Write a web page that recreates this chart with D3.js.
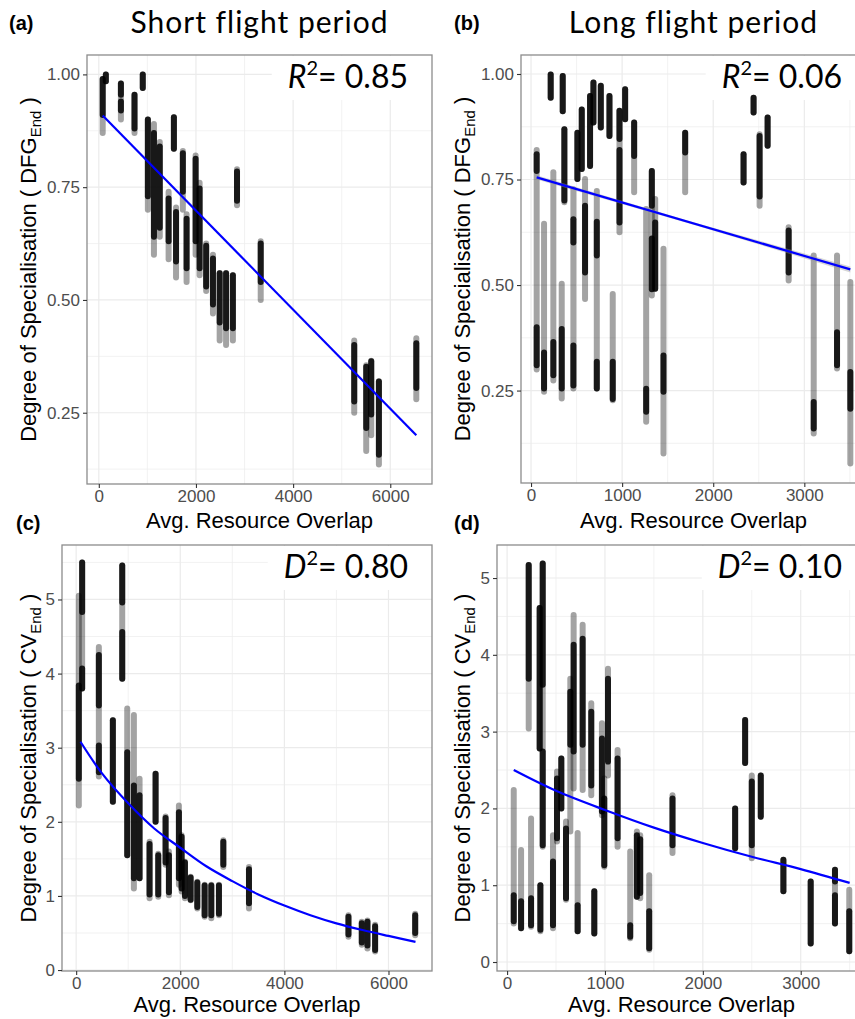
<!DOCTYPE html>
<html lang="en">
<head>
<meta charset="UTF-8">
<title>Degree of specialisation vs resource overlap</title>
<style>
  body { margin: 0; background: #fff; }
  svg { display: block; }
  .tick-label { font-family: "Liberation Sans", Arial, sans-serif; font-size: 17px; fill: #4d4d4d; }
  .axis-title { font-family: "Liberation Sans", Arial, sans-serif; font-size: 22px; fill: #000; }
  .panel-tag { font-family: "Liberation Sans", Arial, sans-serif; font-size: 20px; font-weight: bold; }
  .panel-title { font-family: Lato, "Open Sans", sans-serif; font-size: 30px; letter-spacing: 1px; }
  .stat { font-family: Lato, "Open Sans", sans-serif; font-size: 32px; }
</style>
<script src="https://cdn.jsdelivr.net/npm/d3@7"></script>
</head>
<body>
<svg id="chart" width="855" height="1019"></svg>
<script>
// Each cluster: [avg overlap, min, max, [[dense from, dense to], ...]]
const clustersA = [
  [80, 0.87, 0.99, [[0.91, 0.99]]],
  [145, 0.985, 1.0, [[0.985, 1.0]]],
  [455, 0.90, 0.98, [[0.955, 0.98], [0.92, 0.94]]],
  [735, 0.87, 0.955, [[0.88, 0.955]]],
  [905, 0.97, 1.0, [[0.97, 1.0]]],
  [1010, 0.70, 0.90, [[0.73, 0.90]]],
  [1135, 0.60, 0.89, [[0.64, 0.87]]],
  [1255, 0.64, 0.85, [[0.66, 0.84]]],
  [1437, 0.59, 0.74, [[0.63, 0.725]]],
  [1546, 0.835, 0.905, [[0.835, 0.905]]],
  [1590, 0.55, 0.705, [[0.585, 0.695]]],
  [1730, 0.70, 0.83, [[0.74, 0.825]]],
  [1807, 0.54, 0.69, [[0.57, 0.68]]],
  [1993, 0.60, 0.82, [[0.63, 0.813]]],
  [2075, 0.555, 0.76, [[0.57, 0.747]]],
  [2210, 0.52, 0.625, [[0.53, 0.62]]],
  [2350, 0.47, 0.60, [[0.49, 0.592]]],
  [2488, 0.41, 0.56, [[0.45, 0.559]]],
  [2620, 0.40, 0.56, [[0.437, 0.559]]],
  [2760, 0.41, 0.555, [[0.437, 0.555]]],
  [2845, 0.71, 0.79, [[0.72, 0.785]]],
  [3333, 0.50, 0.63, [[0.54, 0.625]]],
  [5258, 0.25, 0.41, [[0.275, 0.40]]],
  [5505, 0.165, 0.355, [[0.216, 0.352]]],
  [5608, 0.20, 0.365, [[0.246, 0.364]]],
  [5766, 0.135, 0.32, [[0.157, 0.319]]],
  [6536, 0.28, 0.415, [[0.305, 0.404]]]
];

const clustersB = [
  [62, 0.30, 0.82, [[0.77, 0.81], [0.31, 0.40]]],
  [143, 0.247, 0.645, [[0.255, 0.34]]],
  [216, 0.944, 0.999, [[0.944, 0.999]]],
  [245, 0.274, 0.767, [[0.286, 0.365]]],
  [337, 0.231, 0.503, [[0.255, 0.396]]],
  [348, 0.912, 0.995, [[0.912, 0.995]]],
  [366, 0.696, 0.869, [[0.70, 0.869]]],
  [465, 0.255, 0.727, [[0.262, 0.357], [0.601, 0.656]]],
  [509, 0.751, 0.861, [[0.751, 0.861]]],
  [557, 0.775, 0.916, [[0.775, 0.916]]],
  [593, 0.467, 0.751, [[0.53, 0.688]]],
  [648, 0.782, 0.948, [[0.782, 0.948]]],
  [685, 0.885, 0.98, [[0.885, 0.98]]],
  [722, 0.255, 0.723, [[0.255, 0.318], [0.57, 0.65]]],
  [766, 0.873, 0.972, [[0.873, 0.972]]],
  [861, 0.853, 0.948, [[0.853, 0.948]]],
  [897, 0.227, 0.479, [[0.23, 0.318]]],
  [971, 0.625, 0.913, [[0.846, 0.913], [0.648, 0.82]]],
  [1033, 0.893, 0.964, [[0.893, 0.964]]],
  [1132, 0.72, 0.885, [[0.806, 0.885]]],
  [1264, 0.176, 0.68, [[0.20, 0.254]]],
  [1326, 0.475, 0.77, [[0.688, 0.77], [0.49, 0.61]]],
  [1363, 0.491, 0.704, [[0.491, 0.648]]],
  [1454, 0.101, 0.586, [[0.247, 0.333]]],
  [1692, 0.72, 0.861, [[0.814, 0.861]]],
  [2333, 0.743, 0.81, [[0.743, 0.81]]],
  [2443, 0.909, 0.944, [[0.909, 0.944]]],
  [2509, 0.688, 0.857, [[0.71, 0.853]]],
  [2597, 0.83, 0.897, [[0.83, 0.897]]],
  [2828, 0.511, 0.637, [[0.53, 0.629]]],
  [3103, 0.148, 0.57, [[0.16, 0.223]]],
  [3359, 0.302, 0.57, [[0.31, 0.388]]],
  [3505, 0.077, 0.507, [[0.207, 0.294]]]
];

const clustersC = [
  [51, 2.22, 5.05, [[2.58, 3.84]]],
  [115, 3.80, 5.50, [[4.83, 5.50], [3.80, 4.07]]],
  [436, 2.61, 4.36, [[3.57, 4.25], [2.67, 3.03]]],
  [705, 2.27, 3.37, [[2.27, 3.37]]],
  [885, 3.93, 5.46, [[4.96, 5.46], [3.93, 4.56]]],
  [981, 1.55, 3.53, [[1.55, 2.94]]],
  [1109, 1.10, 3.44, [[1.24, 2.49]]],
  [1218, 1.24, 2.58, [[1.24, 2.36]]],
  [1410, 0.97, 1.73, [[1.02, 1.70]]],
  [1526, 2.0, 2.65, [[2.0, 2.65]]],
  [1577, 0.99, 1.57, [[1.02, 1.55]]],
  [1718, 1.42, 2.07, [[1.45, 2.05]]],
  [1782, 1.01, 1.60, [[1.05, 1.55]]],
  [1974, 1.15, 2.22, [[1.24, 2.13]]],
  [2026, 1.06, 1.82, [[1.10, 1.80]]],
  [2090, 0.97, 1.46, [[1.0, 1.45]]],
  [2199, 0.94, 1.26, [[0.95, 1.25]]],
  [2327, 0.83, 1.19, [[0.85, 1.18]]],
  [2468, 0.72, 1.15, [[0.74, 1.14]]],
  [2596, 0.70, 1.15, [[0.74, 1.14]]],
  [2743, 0.74, 1.15, [[0.76, 1.14]]],
  [2827, 1.39, 1.75, [[1.42, 1.73]]],
  [3320, 0.83, 1.39, [[0.90, 1.36]]],
  [5231, 0.45, 0.74, [[0.48, 0.72]]],
  [5487, 0.34, 0.65, [[0.37, 0.63]]],
  [5596, 0.29, 0.67, [[0.33, 0.65]]],
  [5743, 0.25, 0.61, [[0.27, 0.59]]],
  [6513, 0.47, 0.76, [[0.50, 0.74]]]
];

const clustersD = [
  [68, 0.50, 2.24, [[0.53, 0.87]]],
  [143, 0.44, 1.46, [[0.44, 0.79]]],
  [221, 3.04, 5.17, [[3.69, 5.17]]],
  [245, 0.46, 1.87, [[0.48, 0.83]]],
  [333, 2.78, 4.61, [[2.78, 4.61]]],
  [340, 0.40, 1.0, [[0.42, 1.0]]],
  [364, 1.50, 5.19, [[3.61, 5.19], [1.52, 2.74]]],
  [469, 0.44, 1.65, [[0.48, 1.31]]],
  [510, 1.57, 2.48, [[1.61, 2.39]]],
  [554, 2.0, 2.65, [[2.0, 2.65]]],
  [602, 0.81, 1.83, [[0.83, 1.74]]],
  [646, 1.70, 3.69, [[2.83, 3.52]]],
  [680, 2.26, 4.52, [[2.74, 4.13]]],
  [721, 0.40, 1.68, [[0.40, 0.74]]],
  [772, 2.24, 4.39, [[2.83, 4.21]]],
  [860, 2.17, 3.37, [[2.30, 3.26]]],
  [891, 0.37, 0.92, [[0.37, 0.92]]],
  [969, 1.91, 3.11, [[1.96, 2.91]]],
  [993, 1.24, 2.39, [[1.26, 2.13]]],
  [1031, 2.43, 3.82, [[2.61, 3.69]]],
  [1129, 1.50, 2.76, [[1.61, 2.65]]],
  [1258, 0.31, 1.44, [[0.33, 0.48]]],
  [1326, 0.85, 1.70, [[0.85, 1.65]]],
  [1360, 0.83, 1.65, [[0.90, 1.60]]],
  [1452, 0.16, 1.13, [[0.18, 0.66]]],
  [1690, 1.42, 2.17, [[1.52, 2.13]]],
  [2330, 1.48, 2.0, [[1.48, 2.0]]],
  [2432, 2.59, 3.15, [[2.59, 3.15]]],
  [2500, 1.35, 2.43, [[1.52, 2.35]]],
  [2592, 1.89, 2.43, [[1.89, 2.43]]],
  [2823, 0.92, 1.33, [[0.92, 1.33]]],
  [3102, 0.24, 1.05, [[0.24, 1.05]]],
  [3350, 0.50, 1.20, [[0.50, 0.87], [1.05, 1.20]]],
  [3496, 0.14, 0.94, [[0.14, 0.66]]]
];

// fitted lines
const fitAx = [80, 6536],  fitAy = [0.909, 0.20];
const fitBx = [62, 3505],  fitBy = [0.755, 0.537];
const fitBband = [0.005, 0.003, 0.007]; // ribbon half-width at start / middle / end
const fitCx = [83, 500, 1000, 1500, 2000, 2500, 3000, 3500, 4000, 4500, 5000, 5500, 6000, 6519];
const fitCy = [3.08, 2.65, 2.25, 1.91, 1.65, 1.40, 1.20, 1.02, 0.87, 0.74, 0.63, 0.54, 0.46, 0.38];
const fitDx = [68, 500, 1000, 1500, 2000, 2500, 3000, 3500];
const fitDy = [2.50, 2.23, 1.98, 1.75, 1.55, 1.37, 1.21, 1.03];

const xTicksShort = [0, 2000, 4000, 6000];
const xTicksLong = [0, 1000, 2000, 3000];
const yTicksDFG = [0.25, 0.50, 0.75, 1.00];
const yTicksCV = [0, 1, 2, 3, 4, 5];

const stats = ["0.85", "0.06", "0.80", "0.10"];
const titles = ["Short flight period", "Long flight period"];

const svg = d3.select("#chart");

const panels = [
  { tag: "(a)", tagX: 9, tagY: 30, left: 87, right: 432, top: 55, bottom: 484,
    xDom: [-243, 6859], yDom: [0.092, 1.043], xTicks: xTicksShort, yTicks: yTicksDFG, yFmt: d3.format(".2f"),
    data: clustersA, fx: fitAx, fy: fitAy, curved: false, letter: "R", stat: stats[0],
    sub: "End", yName: "DFG", yTitleX: 36, xTitleY: 528, title: titles[0] },
  { tag: "(b)", tagX: 454, tagY: 30, left: 521, right: 866, top: 55, bottom: 483,
    xDom: [-110, 3677], yDom: [0.031, 1.045], xTicks: xTicksLong, yTicks: yTicksDFG, yFmt: d3.format(".2f"),
    data: clustersB, fx: fitBx, fy: fitBy, curved: false, band: fitBband, letter: "R", stat: stats[1],
    sub: "End", yName: "DFG", yTitleX: 470, xTitleY: 528, title: titles[1] },
  { tag: "(c)", tagX: 16, tagY: 530, left: 62, right: 432, top: 545, bottom: 971,
    xDom: [-272, 6836], yDom: [-0.013, 5.735], xTicks: xTicksShort, yTicks: yTicksCV, yFmt: d3.format("d"),
    data: clustersC, fx: fitCx, fy: fitCy, curved: true, letter: "D", stat: stats[2],
    sub: "End", yName: "CV", yTitleX: 36, xTitleY: 1012 },
  { tag: "(d)", tagX: 454, tagY: 530, left: 497, right: 866, top: 545, bottom: 971,
    xDom: [-103, 3667], yDom: [-0.117, 5.43], xTicks: xTicksLong, yTicks: yTicksCV, yFmt: d3.format("d"),
    data: clustersD, fx: fitDx, fy: fitDy, curved: true, letter: "D", stat: stats[3],
    sub: "End", yName: "CV", yTitleX: 470, xTitleY: 1012 }
];

panels.forEach(p => {
  const x = d3.scaleLinear().domain(p.xDom).range([p.left, p.right]);
  const y = d3.scaleLinear().domain(p.yDom).range([p.bottom, p.top]);
  const g = svg.append("g");

  // minor grid: midpoints between major ticks
  const xStep = p.xTicks[1] - p.xTicks[0];
  const yStep = p.yTicks[1] - p.yTicks[0];
  const xMinor = d3.range(p.xTicks[0] - xStep / 2, p.xDom[1], xStep).filter(v => v > p.xDom[0]);
  const yMinor = d3.range(p.yTicks[0] - yStep / 2, p.yDom[1], yStep).filter(v => v > p.yDom[0]);
  const xMajor = d3.range(p.xTicks[0], p.xDom[1], xStep);
  const yMajor = d3.range(p.yTicks[0], p.yDom[1] + 1e-9, yStep);

  g.selectAll(".gxm").data(xMinor).join("line")
    .attr("x1", d => x(d)).attr("x2", d => x(d)).attr("y1", p.top).attr("y2", p.bottom)
    .attr("stroke", "#ededed").attr("stroke-width", 0.7);
  g.selectAll(".gym").data(yMinor).join("line")
    .attr("x1", p.left).attr("x2", p.right).attr("y1", d => y(d)).attr("y2", d => y(d))
    .attr("stroke", "#ededed").attr("stroke-width", 0.7);
  g.selectAll(".gx").data(xMajor).join("line")
    .attr("x1", d => x(d)).attr("x2", d => x(d)).attr("y1", p.top).attr("y2", p.bottom)
    .attr("stroke", "#ebebeb").attr("stroke-width", 1.2);
  g.selectAll(".gy").data(yMajor).join("line")
    .attr("x1", p.left).attr("x2", p.right).attr("y1", d => y(d)).attr("y2", d => y(d))
    .attr("stroke", "#ebebeb").attr("stroke-width", 1.2);

  // stat label (white box hides the grid behind it)
  const statText = g.append("text").attr("class", "stat")
    .attr("x", p.right - 24).attr("y", p.top + 33).attr("text-anchor", "end");
  statText.append("tspan").attr("font-style", "italic").text(p.letter);
  statText.append("tspan").attr("font-size", 20).attr("dy", -13).text("2");
  statText.append("tspan").attr("dy", 13).text("= " + p.stat);
  const bb = statText.node().getBBox();
  g.insert("rect", ".stat")
    .attr("x", bb.x - 16).attr("y", p.top + 1).attr("width", p.right - bb.x + 16)
    .attr("height", bb.y + bb.height - p.top + 4).attr("fill", "#fff");

  // point clusters: faint full range, dark dense part
  const pts = g.append("g");
  p.data.forEach(c => {
    pts.append("line")
      .attr("x1", x(c[0])).attr("x2", x(c[0])).attr("y1", y(c[1])).attr("y2", y(c[2]))
      .attr("stroke", "#000").attr("stroke-opacity", 0.36)
      .attr("stroke-width", 6).attr("stroke-linecap", "round");
    c[3].forEach(s => {
      pts.append("line")
        .attr("x1", x(c[0])).attr("x2", x(c[0])).attr("y1", y(s[0])).attr("y2", y(s[1]))
        .attr("stroke", "#000").attr("stroke-opacity", 0.85)
        .attr("stroke-width", 6).attr("stroke-linecap", "round");
    });
  });

  // fitted line
  const fit = p.fx.map((v, i) => [v, p.fy[i]]);
  if (p.band) {
    const bandPts = [[p.fx[0], p.band[0]], [(p.fx[0] + p.fx[1]) / 2, p.band[1]], [p.fx[1], p.band[2]]];
    const yAt = xv => p.fy[0] + (p.fy[1] - p.fy[0]) * (xv - p.fx[0]) / (p.fx[1] - p.fx[0]);
    g.append("path")
      .attr("d", d3.area().x(d => x(d[0])).y0(d => y(yAt(d[0]) - d[1])).y1(d => y(yAt(d[0]) + d[1]))(bandPts))
      .attr("fill", "#999").attr("fill-opacity", 0.4);
  }
  g.append("path")
    .attr("d", d3.line().x(d => x(d[0])).y(d => y(d[1]))
      .curve(p.curved ? d3.curveCatmullRom.alpha(0.5) : d3.curveLinear)(fit))
    .attr("fill", "none").attr("stroke", "#0000ff").attr("stroke-width", 2.2);

  // panel border
  g.append("rect")
    .attr("x", p.left).attr("y", p.top).attr("width", p.right - p.left).attr("height", p.bottom - p.top)
    .attr("fill", "none").attr("stroke", "#8c8c8c").attr("stroke-width", 1.3);

  // axes
  const xAxis = g.append("g").attr("transform", `translate(0,${p.bottom})`)
    .call(d3.axisBottom(x).tickValues(p.xTicks).tickSize(4).tickPadding(2).tickFormat(d3.format("d")));
  const yAxis = g.append("g").attr("transform", `translate(${p.left},0)`)
    .call(d3.axisLeft(y).tickValues(p.yTicks).tickSize(4).tickPadding(3).tickFormat(p.yFmt));
  [xAxis, yAxis].forEach(a => {
    a.select(".domain").remove();
    a.selectAll(".tick line").attr("stroke", "#333").attr("stroke-width", 1.1);
    a.selectAll(".tick text").attr("class", "tick-label").attr("fill", null);
    a.attr("font-family", null).attr("font-size", null);
  });

  // axis titles
  svg.append("text").attr("class", "axis-title")
    .attr("x", (p.left + p.right) / 2).attr("y", p.xTitleY).attr("text-anchor", "middle")
    .text("Avg. Resource Overlap");
  const yt = svg.append("text").attr("class", "axis-title")
    .attr("transform", `translate(${p.yTitleX},${(p.top + p.bottom) / 2}) rotate(-90)`)
    .attr("text-anchor", "middle");
  yt.append("tspan").text("Degree of Specialisation ( " + p.yName);
  yt.append("tspan").attr("font-size", 15).attr("dy", 5).text(p.sub);
  yt.append("tspan").attr("dy", -5).text(" )");

  svg.append("text").attr("class", "panel-tag").attr("x", p.tagX).attr("y", p.tagY).text(p.tag);
  if (p.title) {
    svg.append("text").attr("class", "panel-title")
      .attr("x", (p.left + p.right) / 2).attr("y", 33).attr("text-anchor", "middle").text(p.title);
  }
});
</script>
</body>
</html>
